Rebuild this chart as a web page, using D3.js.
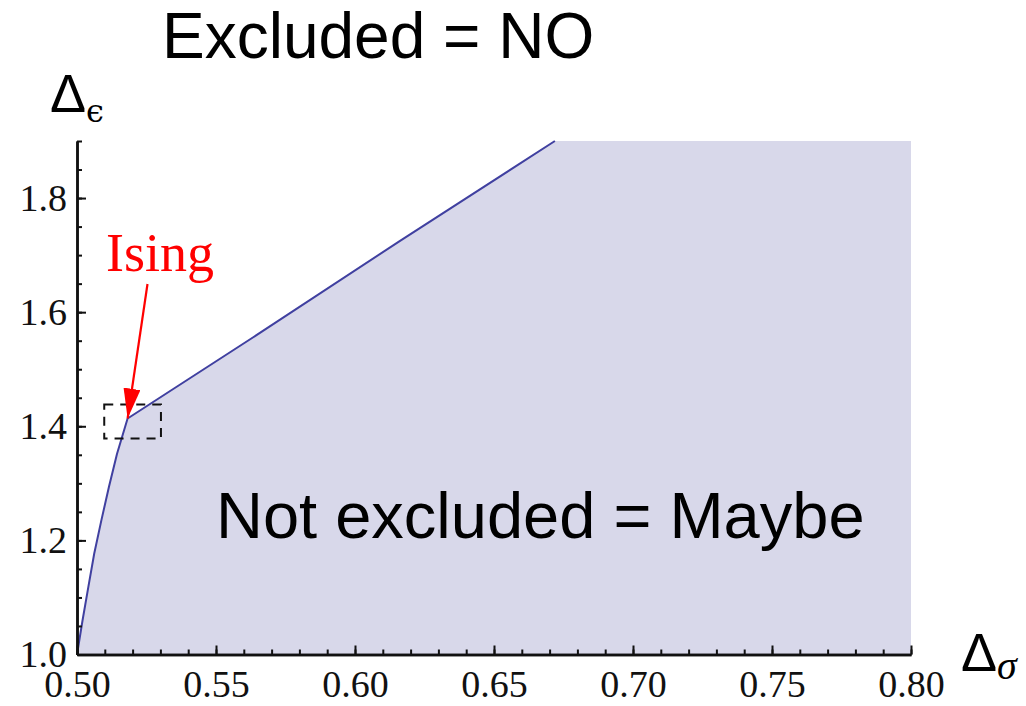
<!DOCTYPE html>
<html>
<head>
<meta charset="utf-8">
<script src="https://cdn.jsdelivr.net/npm/d3@7"></script>
<style>
  html, body { margin: 0; padding: 0; background: #fff; }
  svg { display: block; }
  .axis path, .axis line { stroke: #111; }
  .axis text { font-family: "Liberation Serif", "Times New Roman", serif; fill: #111; }
</style>
</head>
<body>
<svg id="chart" width="1026" height="706"></svg>
<script>
// Boundary of the allowed region in the (Δσ, Δε) plane
const deltaSigma   = [0.5000, 0.5020, 0.5041, 0.5062, 0.5088, 0.5115, 0.5144, 0.5182, 0.5634, 0.6162, 0.6719];
const deltaEpsilon = [1.000, 1.060, 1.119, 1.177, 1.236, 1.294, 1.352, 1.4136, 1.556, 1.725, 1.900];

// Axis ranges and ticks
const xDomain = [0.5, 0.8];
const yDomain = [1.0, 1.9];
const xMajorTicks = [0.50, 0.55, 0.60, 0.65, 0.70, 0.75, 0.80];
const xTickLabels = ["0.50", "0.55", "0.60", "0.65", "0.70", "0.75", "0.80"];
const yMajorTicks = [1.0, 1.2, 1.4, 1.6, 1.8];
const yTickLabels = ["1.0", "1.2", "1.4", "1.6", "1.8"];
const xMinorStep = 0.01;
const yMinorStep = 0.05;

// Ising point highlight box and marker
const isingBoxX = [0.5098, 0.5302];
const isingBoxY = [1.3786, 1.4380];
const isingPoint = [0.5182, 1.4136];

const svg = d3.select("#chart");
const x = d3.scaleLinear().domain(xDomain).range([77, 911]);
const y = d3.scaleLinear().domain(yDomain).range([654.5, 141]);

const xMinor = d3.range(xDomain[0], xDomain[1] + 1e-9, xMinorStep).map(v => +v.toFixed(4));
const yMinor = d3.range(yDomain[0], yDomain[1] + 1e-9, yMinorStep).map(v => +v.toFixed(4));

// Filled "not excluded" region: under the boundary, bounded by the frame edges
const boundary = deltaSigma.map((s, i) => [s, deltaEpsilon[i]]);
const region = boundary.concat([[xDomain[1], yDomain[1]], [xDomain[1], yDomain[0]], [xDomain[0], yDomain[0]]]);
const line = d3.line().x(d => x(d[0])).y(d => y(d[1]));
svg.append("path")
  .attr("d", line(region) + "Z")
  .attr("fill", "#d8d8ea")
  .attr("stroke", "none");

svg.append("path")
  .attr("d", line(boundary))
  .attr("fill", "none")
  .attr("stroke", "#4040a0")
  .attr("stroke-width", 2)
  .attr("stroke-linejoin", "round");

// Axes with inward ticks
function styleAxis(g) {
  g.selectAll("path.domain").attr("stroke-width", 2.5);
  g.selectAll(".tick line").attr("stroke-width", 2);
}
const gxMinor = svg.append("g").attr("class", "axis")
  .attr("transform", `translate(0,${y(yDomain[0])})`)
  .call(d3.axisBottom(x).tickValues(xMinor).tickSize(-5).tickSizeOuter(0).tickFormat(""));
styleAxis(gxMinor);
const gx = svg.append("g").attr("class", "axis")
  .attr("transform", `translate(0,${y(yDomain[0])})`)
  .call(d3.axisBottom(x).tickValues(xMajorTicks).tickSize(-9).tickSizeOuter(0).tickPadding(16)
    .tickFormat((d, i) => xTickLabels[i]));
styleAxis(gx);
gx.selectAll("text").attr("font-size", 38);

const gyMinor = svg.append("g").attr("class", "axis")
  .attr("transform", `translate(${x(xDomain[0])},0)`)
  .call(d3.axisLeft(y).tickValues(yMinor).tickSize(-5).tickSizeOuter(0).tickFormat(""));
styleAxis(gyMinor);
const gy = svg.append("g").attr("class", "axis")
  .attr("transform", `translate(${x(xDomain[0])},0)`)
  .call(d3.axisLeft(y).tickValues(yMajorTicks).tickSize(-9).tickSizeOuter(0).tickPadding(10)
    .tickFormat((d, i) => yTickLabels[i]));
styleAxis(gy);
gy.selectAll("text").attr("font-size", 38);

// Axis titles
const xt = svg.append("text").attr("x", 961).attr("y", 671)
  .attr("font-family", "Liberation Sans, Arial, sans-serif").attr("fill", "#000");
xt.append("tspan").attr("font-size", 54).text("Δ");
xt.append("tspan").attr("font-family", "Liberation Serif, serif").attr("font-style", "italic")
  .attr("font-size", 40).attr("dy", 8).text("σ");

const yt = svg.append("text").attr("x", 50).attr("y", 112)
  .attr("font-family", "Liberation Sans, Arial, sans-serif").attr("fill", "#000");
yt.append("tspan").attr("font-size", 54).text("Δ");
yt.append("tspan").attr("font-family", "DejaVu Serif, serif")
  .attr("font-size", 32).attr("dy", 10).text("ϵ");

// Dashed box around the Ising kink
svg.append("rect")
  .attr("x", x(isingBoxX[0])).attr("y", y(isingBoxY[1]))
  .attr("width", x(isingBoxX[1]) - x(isingBoxX[0]))
  .attr("height", y(isingBoxY[0]) - y(isingBoxY[1]))
  .attr("fill", "none").attr("stroke", "#111").attr("stroke-width", 2)
  .attr("stroke-dasharray", "9,7");

// Ising label and arrow
const defs = svg.append("defs");
defs.append("marker").attr("id", "arrowhead")
  .attr("viewBox", "0 0 30 17").attr("refX", 30).attr("refY", 8.5)
  .attr("markerWidth", 30).attr("markerHeight", 17)
  .attr("markerUnits", "userSpaceOnUse").attr("orient", "auto")
  .append("path").attr("d", "M0,0 L30,8.5 L0,17 Z").attr("fill", "#ff0000");

svg.append("line")
  .attr("x1", 147.5).attr("y1", 284)
  .attr("x2", x(isingPoint[0])).attr("y2", y(isingPoint[1]))
  .attr("stroke", "#ff0000").attr("stroke-width", 2.2)
  .attr("marker-end", "url(#arrowhead)");

svg.append("text").attr("x", 106).attr("y", 271)
  .attr("font-family", "Liberation Serif, Times New Roman, serif")
  .attr("font-size", 54).attr("fill", "#ff0000").text("Ising");

// Region annotations
svg.append("text").attr("x", 162).attr("y", 58)
  .attr("font-family", "Liberation Sans, Arial, Helvetica, sans-serif")
  .attr("font-size", 64).attr("fill", "#000").text("Excluded = NO");

svg.append("text").attr("x", 216).attr("y", 538)
  .attr("font-family", "Liberation Sans, Arial, Helvetica, sans-serif")
  .attr("font-size", 65).attr("fill", "#000").text("Not excluded = Maybe");
</script>
</body>
</html>
